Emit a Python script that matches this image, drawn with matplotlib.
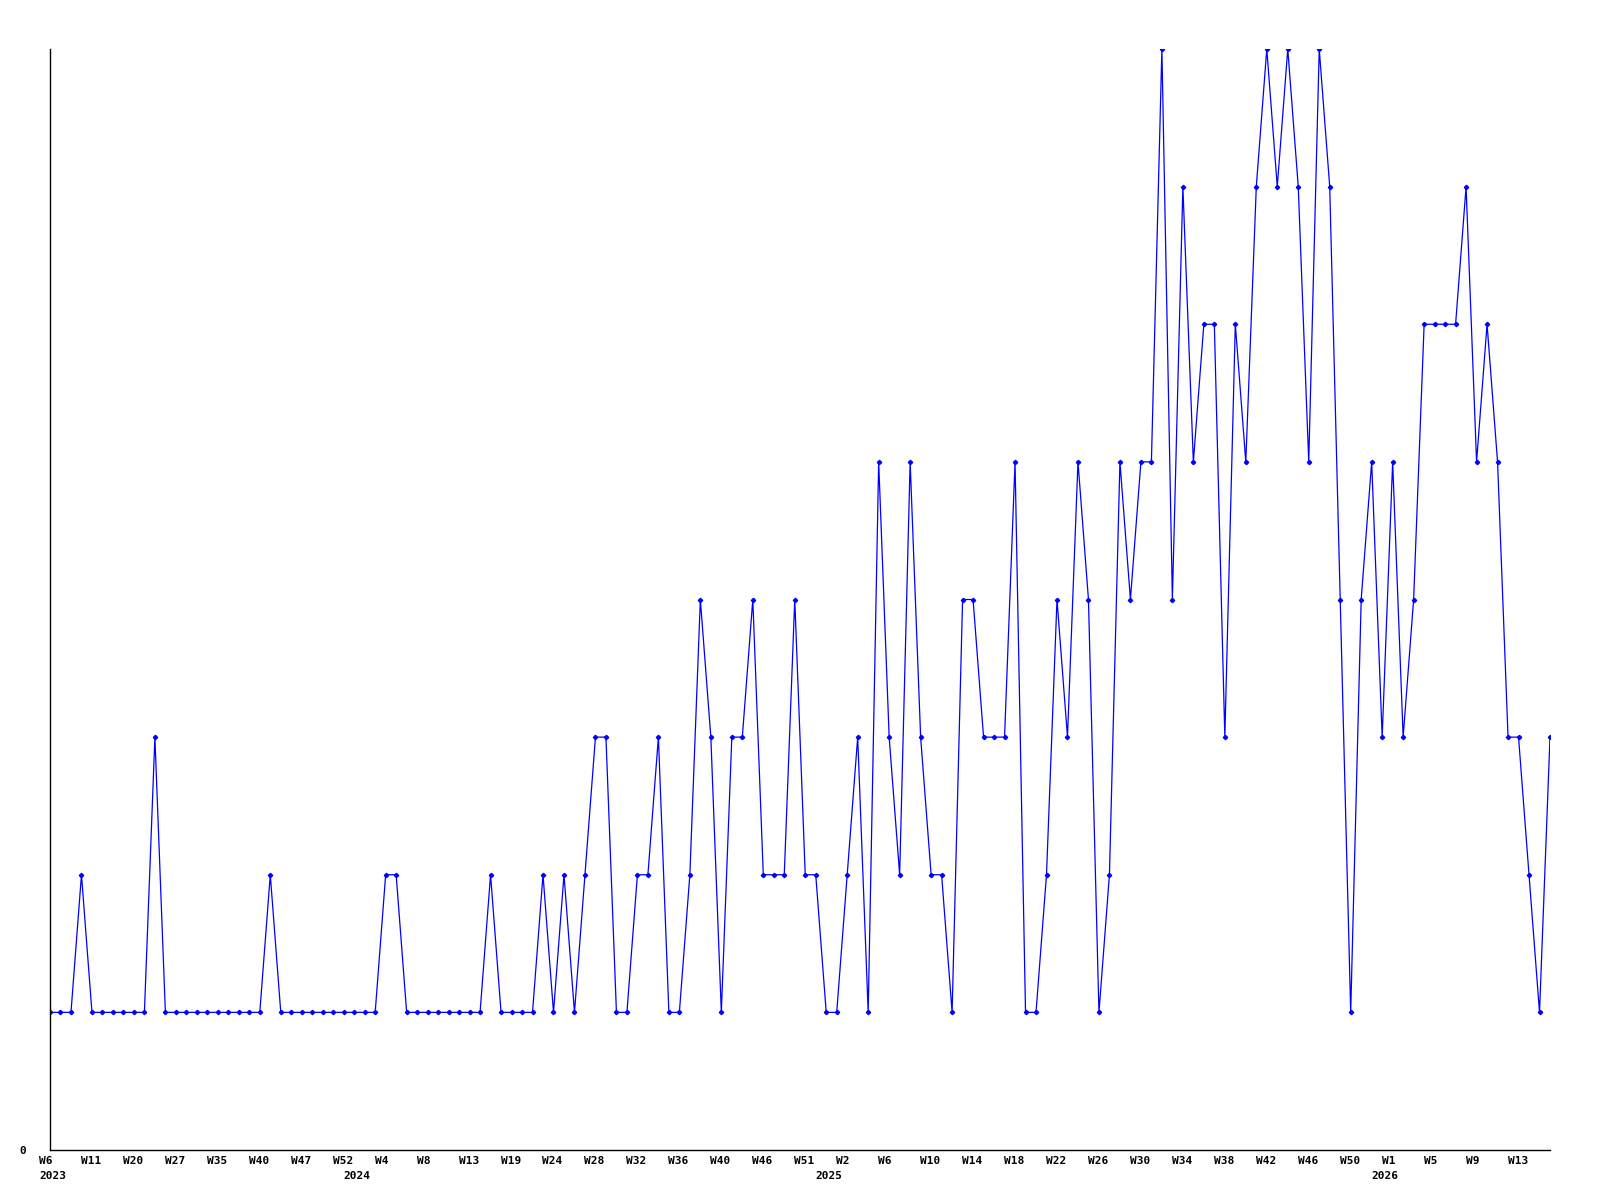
import matplotlib
matplotlib.use('Agg')
import matplotlib.pyplot as plt
import matplotlib.transforms as mtransforms
import numpy as np

# weekly counts, one point per listed week
values = [1, 1, 1, 2, 1, 1, 1, 1, 1, 1,
          3, 1, 1, 1, 1, 1, 1, 1, 1, 1,
          1, 2, 1, 1, 1, 1, 1, 1, 1, 1,
          1, 1, 2, 2, 1, 1, 1, 1, 1, 1,
          1, 1, 2, 1, 1, 1, 1, 2, 1, 2,
          1, 2, 3, 3, 1, 1, 2, 2, 3, 1,
          1, 2, 4, 3, 1, 3, 3, 4, 2, 2,
          2, 4, 2, 2, 1, 1, 2, 3, 1, 5,
          3, 2, 5, 3, 2, 2, 1, 4, 4, 3,
          3, 3, 5, 1, 1, 2, 4, 3, 5, 4,
          1, 2, 5, 4, 5, 5, 8, 4, 7, 5,
          6, 6, 3, 6, 5, 7, 8, 7, 8, 7,
          5, 8, 7, 4, 1, 4, 5, 3, 5, 3,
          4, 6, 6, 6, 6, 7, 5, 6, 5, 3,
          3, 2, 1, 3]

week_labels = ['W6', 'W11', 'W20', 'W27', 'W35', 'W40', 'W47', 'W52', 'W4',
               'W8', 'W13', 'W19', 'W24', 'W28', 'W32', 'W36', 'W40', 'W46',
               'W51', 'W2', 'W6', 'W10', 'W14', 'W18', 'W22', 'W26', 'W30',
               'W34', 'W38', 'W42', 'W46', 'W50', 'W1', 'W5', 'W9', 'W13']
year_labels = ['2023', '2024', '2025', '2026']
year_pos = [0, 29, 74, 127]


def main():
    x = np.arange(len(values))
    fig = plt.figure(figsize=(16, 12), dpi=100)
    ax = fig.add_axes([50 / 1600, 50 / 1200, 1500 / 1600, 1101 / 1200])

    ax.plot(x, values, color='#0000ff', lw=0.9, marker='D', ms=2.2,
            mec='#0000ff', mfc='#0000ff')

    ax.set_xlim(0, len(values) - 1)
    ax.set_ylim(0, 8)
    for side in ['top', 'right']:
        ax.spines[side].set_visible(False)
    for side in ['left', 'bottom']:
        ax.spines[side].set_linewidth(1.0)

    font = dict(family='DejaVu Sans Mono', weight='bold', size=8)
    ax.set_yticks([0])
    ax.set_yticklabels(['0'], **font)
    ax.tick_params(axis='y', length=0, pad=17)

    # year labels share position 0 with W6, keep both
    ax.xaxis.remove_overlapping_locs = False
    ax.set_xticks(np.arange(0, len(values), 4))
    ax.set_xticklabels(week_labels, ha='left', **font)
    ax.set_xticks(year_pos, minor=True)
    ax.set_xticklabels(year_labels, minor=True, ha='left', **font)
    ax.tick_params(axis='x', which='major', length=0, pad=4)
    ax.tick_params(axis='x', which='minor', length=0, pad=15)

    shift = mtransforms.ScaledTranslation(-11 / 100, 0, fig.dpi_scale_trans)
    for lab in ax.get_xticklabels(which='both'):
        lab.set_transform(lab.get_transform() + shift)

    fig.savefig('out.png', dpi=100, facecolor='white')


if __name__ == '__main__':
    main()
